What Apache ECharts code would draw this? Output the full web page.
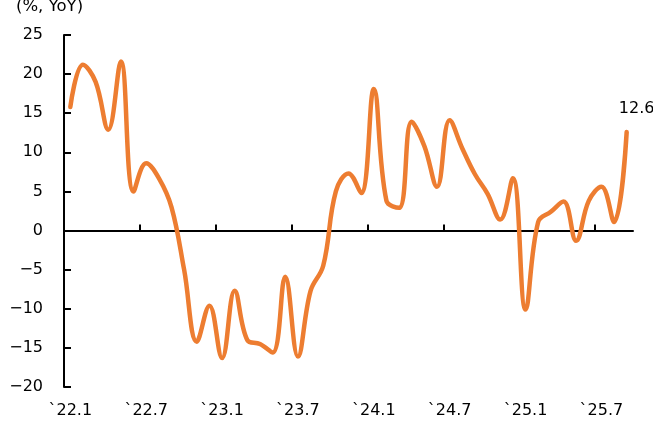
<!DOCTYPE html>
<html>
<head>
<meta charset="utf-8">
<script src="https://cdn.jsdelivr.net/npm/echarts@6/dist/echarts.min.js"></script>
<style>
  html, body { margin: 0; padding: 0; background: #fff; }
  #chart { width: 653px; height: 434px; }
</style>
</head>
<body>
<div id="chart"></div>
<script>
const months = [
  '`22.1', '`22.2', '`22.3', '`22.4', '`22.5', '`22.6', '`22.7', '`22.8', '`22.9', '`22.10', '`22.11', '`22.12',
  '`23.1', '`23.2', '`23.3', '`23.4', '`23.5', '`23.6', '`23.7', '`23.8', '`23.9', '`23.10', '`23.11', '`23.12',
  '`24.1', '`24.2', '`24.3', '`24.4', '`24.5', '`24.6', '`24.7', '`24.8', '`24.9', '`24.10', '`24.11', '`24.12',
  '`25.1', '`25.2', '`25.3', '`25.4', '`25.5', '`25.6', '`25.7', '`25.8', '`25.9'
]

const yoy = [
  15.8, 21.2, 19.0, 12.9, 21.6, 5.0, 8.6, 6.7, 3.0, -5.0, -14.2, -9.6,
  -16.3, -7.7, -14.0, -14.5, -15.6, -5.9, -16.1, -7.7, -4.5, 5.0, 7.3, 4.8,
  18.1, 3.8, 2.9, 13.9, 10.8, 5.6, 14.1, 10.5, 7.2, 4.7, 1.4, 6.7,
  -10.1, 1.1, 2.4, 3.7, -1.3, 3.8, 5.6, 1.1, 12.6
]

const unitLabel = '(%, YoY)'
const yMin = -20
const yMax = 25

const FONT = 'DejaVu Sans'
const LINE_COLOR = '#ED7D31'
const W = 653, H = 434
const G = { left: 64, right: 20, top: 35, bottom: 47 }

// tick marks on the zero line sit every 6 months and stop at the last labelled month,
// so they get their own invisible grid that ends at that boundary
const band = (W - G.left - G.right) / months.length
const tickMonths = months.slice(0, 42)
const zeroY = G.top + (yMax / (yMax - yMin)) * (H - G.top - G.bottom)

const chart = echarts.init(document.getElementById('chart'))
const lastIdx = yoy.length - 1

chart.setOption({
  animation: false,
  backgroundColor: '#fff',
  textStyle: { fontFamily: FONT },
  title: {
    text: unitLabel,
    left: 11,
    top: -7,
    textStyle: { fontFamily: FONT, fontSize: 16.5, fontWeight: 'normal', color: '#000' }
  },
  grid: [
    { left: G.left, right: G.right, top: G.top, bottom: G.bottom },
    { left: G.left, right: W - G.left - band * tickMonths.length, top: G.top, bottom: H - zeroY }
  ],
  xAxis: [
    {
      type: 'category',
      gridIndex: 0,
      data: months,
      boundaryGap: true,
      axisLine: { onZero: true, lineStyle: { color: '#000', width: 2 } },
      axisTick: { show: false },
      axisLabel: { show: false },
      splitLine: { show: false }
    },
    {
      type: 'category',
      gridIndex: 0,
      data: months,
      position: 'bottom',
      boundaryGap: true,
      axisLine: { show: false, onZero: false },
      axisTick: { show: false },
      axisLabel: { interval: 5, color: '#000', fontSize: 16, fontFamily: FONT, margin: 16 },
      splitLine: { show: false }
    },
    {
      type: 'category',
      gridIndex: 1,
      data: tickMonths,
      boundaryGap: true,
      axisLine: { show: false },
      axisTick: { show: true, inside: true, length: 6, interval: 5, lineStyle: { color: '#000', width: 2 } },
      axisLabel: { show: false },
      splitLine: { show: false }
    }
  ],
  yAxis: [
    {
      type: 'value',
      gridIndex: 0,
      min: yMin,
      max: yMax,
      interval: 5,
      axisLine: { show: true, lineStyle: { color: '#000', width: 2 } },
      axisTick: { show: true, inside: true, length: 7, lineStyle: { color: '#000', width: 2 } },
      axisLabel: {
        color: '#000',
        fontSize: 16,
        fontFamily: FONT,
        margin: 21,
        formatter: (v) => String(v).replace('-', '\u2212')
      },
      splitLine: { show: false }
    },
    {
      type: 'value',
      gridIndex: 1,
      show: false
    }
  ],
  series: [
    {
      name: 'YoY',
      type: 'line',
      xAxisIndex: 0,
      yAxisIndex: 0,
      data: yoy.map((v, i) => i === lastIdx
        ? { value: v, label: { show: true, position: 'top', offset: [10, -10], formatter: '{c}', color: '#000', fontSize: 16, fontFamily: FONT } }
        : v),
      smooth: 0.4,
      // tiny symbols hidden under the line, only so the last point can carry its label
      symbol: 'circle',
      symbolSize: 1,
      showSymbol: true,
      showAllSymbol: true,
      itemStyle: { color: LINE_COLOR },
      lineStyle: { color: LINE_COLOR, width: 4.5, cap: 'round', join: 'round' },
      z: 1
    }
  ]
})
</script>
</body>
</html>
